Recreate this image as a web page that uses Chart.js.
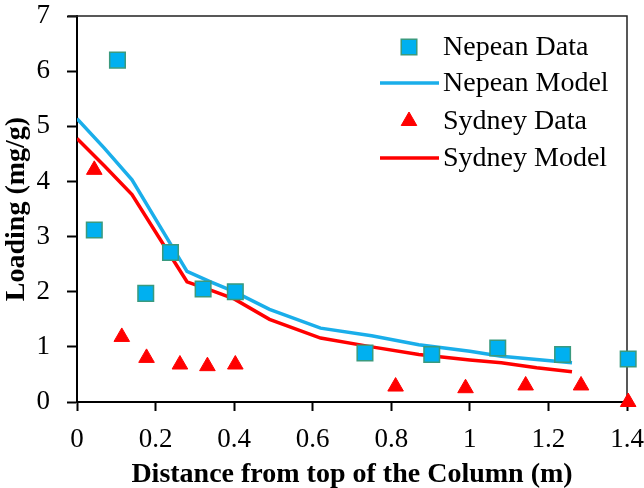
<!DOCTYPE html>
<html>
<head>
<meta charset="utf-8">
<script src="https://cdn.jsdelivr.net/npm/chart.js@4.4.1/dist/chart.umd.min.js"></script>
<style>
  html, body { margin: 0; padding: 0; background: #fff; }
  #wrap { width: 644px; height: 488px; }
</style>
</head>
<body>
<div id="wrap"><canvas id="grafico"></canvas></div>
<script>
// Dados medidos
const distNepean = [0.044, 0.103, 0.175, 0.238, 0.321, 0.403, 0.733, 0.903, 1.071, 1.236, 1.403];
const loadNepean = [3.12, 6.20, 1.97, 2.71, 2.05, 2.00, 0.89, 0.86, 0.98, 0.86, 0.78];
const distSydney = [0.044, 0.114, 0.177, 0.262, 0.332, 0.403, 0.811, 0.989, 1.142, 1.283, 1.403];
const loadSydney = [4.21, 1.18, 0.80, 0.68, 0.65, 0.68, 0.28, 0.25, 0.30, 0.30, 0.00];

// Curvas do modelo
const distModel = [0, 0.07, 0.14, 0.21, 0.28, 0.34, 0.40, 0.49, 0.62, 0.75, 0.87, 1.00, 1.08, 1.17, 1.26];
const modelNepean = [5.14, 4.60, 4.03, 3.20, 2.37, 2.18, 2.00, 1.68, 1.34, 1.20, 1.04, 0.92, 0.83, 0.77, 0.71];
const modelSydney = [4.78, 4.28, 3.76, 2.97, 2.18, 2.03, 1.87, 1.50, 1.16, 1.00, 0.86, 0.76, 0.71, 0.62, 0.55];

// Ticks
const xTicks = [0, 0.2, 0.4, 0.6, 0.8, 1, 1.2, 1.4];
const yTicks = [0, 1, 2, 3, 4, 5, 6, 7];

const legendLabels = ['Nepean Data', 'Nepean Model', 'Sydney Data', 'Sydney Model'];

const serif = 'Liberation Serif';
const azul = '#1AAEEA';
const vermelho = '#FF0000';

function pares(xs, ys) {
    return xs.map((x, i) => ({ x: x, y: ys[i] }));
}

// Moldura (topo e direita)
const moldura = {
    id: 'moldura',
    beforeDatasetsDraw(chart) {
        const a = chart.chartArea;
        const ctx = chart.ctx;
        ctx.save();
        ctx.strokeStyle = '#222';
        ctx.lineWidth = 1.5;
        ctx.beginPath();
        ctx.moveTo(a.left - 9, a.top);
        ctx.lineTo(a.right, a.top);
        ctx.lineTo(a.right, a.bottom);
        ctx.stroke();
        ctx.restore();
    }
};

// Legenda dentro da área do gráfico
const legenda = {
    id: 'legenda',
    afterDraw(chart) {
        const ctx = chart.ctx;
        const rows = [47, 83, 121, 158];
        const ordem = [0, 2, 1, 3];
        ctx.save();
        ctx.font = '28px "' + serif + '"';
        ctx.textBaseline = 'middle';
        ordem.forEach((di, i) => {
            const ds = chart.data.datasets[di];
            const y = rows[i];
            if (ds.showLine) {
                ctx.strokeStyle = ds.borderColor;
                ctx.lineWidth = ds.borderWidth;
                ctx.beginPath();
                ctx.moveTo(380, y);
                ctx.lineTo(439, y);
                ctx.stroke();
            } else {
                ctx.fillStyle = ds.pointBackgroundColor;
                ctx.strokeStyle = ds.pointBorderColor;
                ctx.lineWidth = ds.pointBorderWidth;
                Chart.helpers.drawPoint(ctx, {
                    pointStyle: ds.pointStyle,
                    radius: ds.pointRadius,
                    borderWidth: ds.pointBorderWidth
                }, 409, y);
            }
            ctx.fillStyle = '#000';
            ctx.fillText(legendLabels[i], 443, y + 1);
        });
        ctx.restore();
    }
};

const ctxGrafico = document.getElementById('grafico').getContext('2d');
new Chart(ctxGrafico, {
    type: 'scatter',
    data: {
        datasets: [{
            label: 'Nepean Data',
            data: pares(distNepean, loadNepean),
            showLine: false,
            clip: false,
            pointStyle: 'rect',
            pointRadius: 11,
            pointBorderWidth: 1.5,
            pointBackgroundColor: '#00B0F0',
            pointBorderColor: '#3A9A7E'
        }, {
            label: 'Sydney Data',
            data: pares(distSydney, loadSydney),
            showLine: false,
            clip: false,
            pointStyle: 'triangle',
            pointRadius: 9,
            pointBorderWidth: 1,
            pointBackgroundColor: vermelho,
            pointBorderColor: vermelho
        }, {
            label: 'Nepean Model',
            data: pares(distModel, modelNepean),
            showLine: true,
            pointRadius: 0,
            borderColor: azul,
            borderWidth: 3.5,
            tension: 0
        }, {
            label: 'Sydney Model',
            data: pares(distModel, modelSydney),
            showLine: true,
            pointRadius: 0,
            borderColor: vermelho,
            borderWidth: 3.5,
            tension: 0
        }]
    },
    options: {
        responsive: true,
        maintainAspectRatio: false,
        animation: false,
        layout: { padding: { left: 0, top: 16, right: 17, bottom: 0 } },
        plugins: {
            legend: { display: false },
            tooltip: { enabled: false }
        },
        scales: {
            x: {
                type: 'linear',
                min: 0,
                max: 1.4,
                afterBuildTicks: s => { s.ticks = xTicks.map(v => ({ value: v })); },
                afterFit: s => {
                    s.height = 86;
                    s.paddingLeft = 0;
                    s.paddingRight = 0;
                },
                ticks: {
                    font: { family: serif, size: 27 },
                    color: '#000',
                    padding: 13,
                    callback: v => String(v)
                },
                grid: { drawOnChartArea: false, drawTicks: true, tickLength: 9, tickWidth: 2, tickColor: '#000' },
                border: { display: true, color: '#000', width: 2 },
                title: {
                    display: true,
                    text: 'Distance from top of the Column (m)',
                    font: { family: serif, size: 28, weight: 'bold' },
                    color: '#000',
                    padding: { top: 0, bottom: -4 }
                }
            },
            y: {
                type: 'linear',
                min: 0,
                max: 7,
                afterBuildTicks: s => { s.ticks = yTicks.map(v => ({ value: v })); },
                afterFit: s => {
                    s.width = 77;
                    s.paddingTop = 0;
                    s.paddingBottom = 0;
                },
                ticks: {
                    font: { family: serif, size: 27 },
                    color: '#000',
                    padding: 17
                },
                grid: { drawOnChartArea: false, drawTicks: true, tickLength: 10, tickWidth: 2, tickColor: '#000' },
                border: { display: true, color: '#000', width: 2 },
                title: {
                    display: true,
                    text: 'Loading (mg/g)',
                    font: { family: serif, size: 28, weight: 'bold' },
                    color: '#000',
                    padding: { top: 0, bottom: 0 }
                }
            }
        }
    },
    plugins: [moldura, legenda]
});
</script>
</body>
</html>
